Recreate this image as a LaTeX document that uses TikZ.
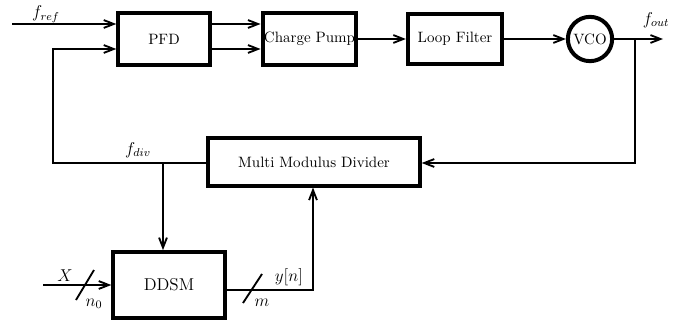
\documentclass[tikz,border=0pt]{standalone}
\usepackage{tikz}
\usepackage{amssymb}
\usetikzlibrary{arrows.meta}
\usetikzlibrary{shapes.geometric}

\begin{document}
\begin{tikzpicture}[x=0.7pt, y=-0.7pt, line width=1.3pt,
        >={Straight Barb[length=7pt,width=5.5pt]},
        every node/.style={font=\fontsize{10.5}{12}\selectfont},
        block/.style={draw, line width=2.8pt, inner sep=1pt},
        vcoblock/.style={draw, circle, line width=2.8pt, inner sep=0pt, minimum size=31pt},
        sig/.style={font=\fontsize{12}{14}\selectfont}]
        \useasboundingbox (0,0) rectangle (686,320);

        \node[block, minimum width=64pt, minimum height=36pt] (pfd) at (164, 39) {PFD};
        \node[block, minimum width=65pt, minimum height=36pt] (cp) at (309.5, 39) {Charge Pump};
        \node[block, minimum width=66pt, minimum height=35pt] (lf) at (455, 39) {Loop Filter};
        \node[vcoblock] (vco) at (590, 39) {VCO};

        \node[block, minimum width=148pt, minimum height=33pt] (mmd) at (314, 162) {Multi Modulus Divider};
        \node[block, minimum width=78pt, minimum height=46pt] (ddsm) at (169, 285) {\large DDSM};

        \coordinate (up) at (0, 24);
        \coordinate (lo) at (0, 49);
        \coordinate (fref) at (12, 24);
        \coordinate (fout) at (663, 39);
        \coordinate (tap) at (635, 39);
        \coordinate (fb) at (53, 163);
        \coordinate (tapdiv) at (163, 163);
        \coordinate (xin) at (43, 285);
        \coordinate (yn) at (313, 290);

        \node[sig] (lref) at (46, 14) {$f_{ref}$};
        \node[sig] (lout) at (656, 20) {$f_{out}$};
        \node[sig] (ldiv) at (138, 150) {$f_{div}$};
        \node[sig] (lx) at (65, 276) {$X$};
        \node[sig] (lnz) at (94, 304) {$n_0$};
        \node[sig] (lm) at (262, 303) {$m$};
        \node[sig] (lyn) at (289, 277) {$y[n]$};

        \draw[->] (fref) -- (fref -| pfd.west);
        \draw[->] (pfd.east |- up) -- (cp.west |- up);
        \draw[->] (pfd.east |- lo) -- (cp.west |- lo);
        \draw[->] (cp) -- (lf);
        \draw[->] (lf) -- (vco);
        \draw[->] (vco) -- (fout);

        \draw[->] (tap) |- (mmd.east |- fb);
        \draw[->] (mmd.west |- fb) -- (fb) |- (pfd.west |- lo);
        \draw[->] (tapdiv) -- (tapdiv |- ddsm.north);

        \draw[->] (xin) -- (ddsm.west |- xin);
        \draw[->] (ddsm.east |- yn) -- (yn) -- (yn |- mmd.south);

        % bus width marks
        \draw (76, 300) -- (94, 270);
        \draw (243, 303) -- (262, 274);
    \end{tikzpicture}
\end{document}
